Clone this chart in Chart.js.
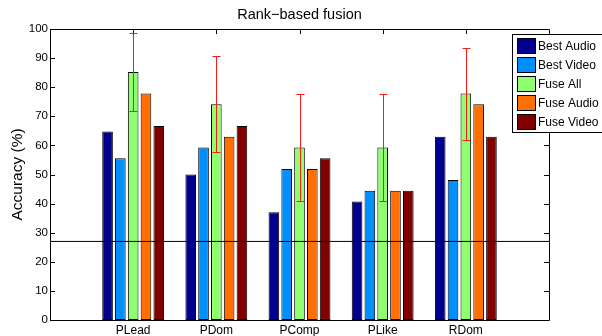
<!DOCTYPE html>
<html><head><meta charset="utf-8">
<script src="https://cdn.jsdelivr.net/npm/chart.js@4"></script>
<style>html,body{margin:0;padding:0;background:#fff}#wrap{width:602px;height:336px}</style>
</head><body><div id="wrap"><canvas id="c" width="602" height="336"></canvas></div>
<script>
const categories = ['PLead', 'PDom', 'PComp', 'PLike', 'RDom'];
const seriesNames = ['Best Audio', 'Best Video', 'Fuse All', 'Fuse Audio', 'Fuse Video'];
const bestAudio = [64.8, 50.0, 37.0, 40.7, 63.0];
const bestVideo = [55.6, 59.3, 51.9, 44.4, 48.1];
const fuseAll   = [85.2, 74.1, 59.3, 59.3, 77.8];
const fuseAudio = [77.8, 63.0, 51.9, 44.4, 74.1];
const fuseVideo = [66.7, 66.7, 55.6, 44.4, 63.0];
const fuseAllError = [13.5, 16.5, 18.5, 18.5, 15.8];
const chanceLevel = 27;
const yMin = 0, yMax = 100, yStep = 10;

const seriesValues = [bestAudio, bestVideo, fuseAll, fuseAudio, fuseVideo];
const seriesColors = ['#00008F', '#008FFF', '#8FFF70', '#FF7000', '#800000'];
const FONT = "'Liberation Sans', Arial, Helvetica, sans-serif";

const labels = ['', ...categories, ''];
const pad = arr => [null, ...arr, null];

const datasets = seriesValues.map((vals, i) => ({
  type: 'bar',
  label: seriesNames[i],
  data: pad(vals),
  backgroundColor: seriesColors[i],
  borderColor: '#000',
  borderWidth: 1,
  borderSkipped: false,
  order: 1
}));
datasets.push({
  type: 'line',
  label: 'chance',
  data: labels.map(() => chanceLevel),
  borderColor: '#000',
  borderWidth: 1,
  pointRadius: 0,
  fill: false,
  order: 0
});

const decor = {
  id: 'decor',
  beforeDatasetsDraw(chart) {
    const {ctx, chartArea: a, scales: {x, y}} = chart;
    ctx.save();
    ctx.strokeStyle = '#000';
    ctx.lineWidth = 1;
    ctx.beginPath();
    for (let v = yMin; v <= yMax; v += yStep) {
      const py = Math.round(y.getPixelForValue(v)) + 0.5;
      ctx.moveTo(a.left, py); ctx.lineTo(a.left + 5, py);
      ctx.moveTo(a.right, py); ctx.lineTo(a.right - 5, py);
    }
    for (let i = 1; i <= categories.length; i++) {
      const px = Math.round(x.getPixelForValue(i)) + 0.5;
      ctx.moveTo(px, a.top); ctx.lineTo(px, a.top + 5);
      ctx.moveTo(px, a.bottom); ctx.lineTo(px, a.bottom - 5);
    }
    ctx.stroke();
    ctx.restore();
  },
  afterDatasetsDraw(chart) {
    const {ctx, chartArea: a, scales: {y}} = chart;
    const meta = chart.getDatasetMeta(2);
    ctx.save();
    ctx.strokeStyle = '#FF1A1A';
    ctx.lineWidth = 1;
    ctx.beginPath();
    fuseAll.forEach((v, i) => {
      const bar = meta.data[i + 1];
      const px = Math.round(bar.x) + 0.5;
      const yt = Math.round(y.getPixelForValue(v + fuseAllError[i])) + 0.5;
      const yb = Math.round(y.getPixelForValue(v - fuseAllError[i])) + 0.5;
      ctx.moveTo(px, yt); ctx.lineTo(px, yb);
      ctx.moveTo(px - 4, yt); ctx.lineTo(px + 4, yt);
      ctx.moveTo(px - 4, yb); ctx.lineTo(px + 4, yb);
    });
    ctx.stroke();
    ctx.strokeStyle = '#000';
    ctx.beginPath();
    ctx.rect(Math.round(a.left) + 0.5, Math.round(a.top) + 0.5,
             Math.round(a.right - a.left), Math.round(a.bottom - a.top));
    ctx.stroke();
    ctx.restore();
  },
  afterDraw(chart) {
    const {ctx} = chart;
    ctx.save();
    const bx = 512.5, by = 34.5, bw = 100, bh = 98;
    ctx.fillStyle = '#fff';
    ctx.fillRect(bx, by, bw, bh);
    ctx.strokeStyle = '#000';
    ctx.lineWidth = 1;
    ctx.strokeRect(bx, by, bw, bh);
    ctx.font = '12px ' + FONT;
    ctx.textBaseline = 'middle';
    ctx.textAlign = 'left';
    seriesNames.forEach((name, i) => {
      const sy = 37.5 + i * 19.2;
      const syr = Math.round(sy) + 0.5;
      ctx.fillStyle = seriesColors[i];
      ctx.fillRect(517.5, syr, 18, 15);
      ctx.strokeStyle = '#000';
      ctx.strokeRect(517.5, syr, 18, 15);
      ctx.fillStyle = '#000';
      ctx.fillText(name, 538, syr + 8);
    });
    ctx.restore();
  }
};

new Chart(document.getElementById('c'), {
  type: 'bar',
  data: { labels, datasets },
  options: {
    responsive: false,
    animation: false,
    devicePixelRatio: 1,
    layout: { padding: { left: 0, right: 53, top: 0, bottom: 0 } },
    datasets: { bar: { categoryPercentage: 0.77, barPercentage: 0.83 } },
    plugins: {
      legend: { display: false },
      tooltip: { enabled: false },
      title: {
        display: true,
        text: 'Rank\u2212based fusion',
        fullSize: false,
        color: '#000',
        font: { family: FONT, size: 14.5, weight: 'normal' },
        padding: { top: 6, bottom: 5.6 }
      }
    },
    scales: {
      x: {
        type: 'category',
        offset: false,
        grid: { display: false, drawTicks: false },
        border: { display: false },
        ticks: { color: '#000', font: { family: FONT, size: 12 }, padding: 3, autoSkip: false, maxRotation: 0 },
        afterFit(s) { s.height = 16; }
      },
      y: {
        min: yMin, max: yMax,
        grid: { display: false, drawTicks: false },
        border: { display: false },
        ticks: { stepSize: yStep, color: '#000', font: { family: FONT, size: 11.5 }, padding: 2 },
        title: {
          display: true,
          text: 'Accuracy (%)',
          color: '#000',
          font: { family: FONT, size: 15.5 },
          padding: { top: 8, bottom: 0 }
        },
        afterFit(s) { s.width = 50; }
      }
    }
  },
  plugins: [decor]
});
</script>
</body></html>
